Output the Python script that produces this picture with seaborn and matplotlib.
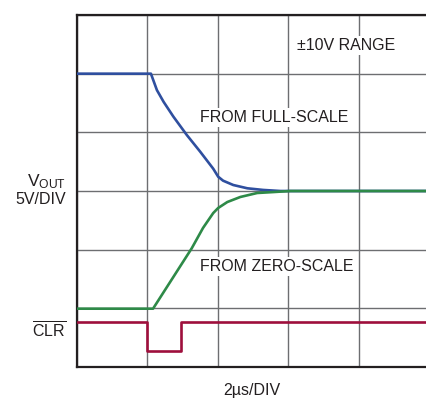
import numpy as np
import pandas as pd
import matplotlib
matplotlib.use('Agg')
import matplotlib.pyplot as plt
import seaborn as sns

sns.set_style("white")
plt.rcParams['font.family'] = ['Liberation Sans', 'DejaVu Sans']
plt.rcParams['mathtext.fontset'] = 'custom'
plt.rcParams['mathtext.rm'] = 'Liberation Sans'

# time in us (2us/DIV), output in volts (5V/DIV), CLR drawn as an offset trace
full_t = [0, 2.1, 2.27, 2.46, 2.74, 3.12, 3.5, 3.87, 4.01, 4.15, 4.44, 4.84, 5.29, 5.78, 10]
full_v = [10, 10, 8.6, 7.6, 6.33, 4.77, 3.35, 1.9, 1.22, 0.88, 0.51, 0.23, 0.09, 0.0, 0.0]
zero_t = [0, 2.16, 3.26, 3.58, 3.87, 4.01, 4.27, 4.64, 5.12, 5.58, 6.06, 10]
zero_v = [-10.03, -10.03, -4.88, -3.15, -1.88, -1.45, -0.94, -0.51, -0.17, -0.09, 0.0, 0.0]
clr_t = [0, 2.0, 2.0, 2.96, 2.96, 10]
clr_v = [-11.2, -11.2, -13.6, -13.6, -11.2, -11.2]

TXT = '#231f20'
W, H = 427, 419

fig = plt.figure(figsize=(W / 100, H / 100), dpi=100)
ax = fig.add_axes([77 / W, (H - 367) / H, (429 - 77) / W, (367 - 15) / H])

traces = [(full_t, full_v, '#2f4f9f'), (zero_t, zero_v, '#2e8a48'), (clr_t, clr_v, '#9e0f3c')]
for t, v, c in traces:
    df = pd.DataFrame({'t': t, 'v': v})
    sns.lineplot(data=df, x='t', y='v', ax=ax, color=c, lw=1.9, sort=False,
                 estimator=None, zorder=3)

ax.set_xlim(0, 10)
ax.set_ylim(-15, 15)
ax.set_xticks(np.arange(0, 11, 2))
ax.set_yticks(np.arange(-15, 16, 5))
ax.grid(True, color='#6d6e71', lw=1)
ax.tick_params(length=0, labelbottom=False, labelleft=False)
ax.set_xlabel('')
ax.set_ylabel('')
for s in ax.spines.values():
    s.set_color(TXT)
    s.set_linewidth(1.6)

fs = 11.5
box = dict(facecolor='white', edgecolor='none', pad=1.5)
ax.text(6.26, 12.4, '±10V RANGE', fontsize=fs, color=TXT, va='center', bbox=box, zorder=4)
ax.text(3.5, 6.3, 'FROM FULL-SCALE', fontsize=fs, color=TXT, va='center', bbox=box, zorder=4)
ax.text(3.5, -6.45, 'FROM ZERO-SCALE', fontsize=fs, color=TXT, va='center', bbox=box, zorder=4)

fig.text(66 / W, 1 - 182 / H, r'$\mathregular{V_{OUT}}$', fontsize=12.5, color=TXT,
         ha='right', va='center')
fig.text(66 / W, 1 - 199 / H, '5V/DIV', fontsize=fs, color=TXT, ha='right', va='center')
fig.text(66 / W, 1 - 331 / H, r'$\overline{\mathregular{CLR}}$', fontsize=fs, color=TXT,
         ha='right', va='center')
fig.text(252 / W, 1 - 390 / H, '2µs/DIV', fontsize=fs, color=TXT, ha='center', va='center')

fig.savefig('out.png', dpi=100)
